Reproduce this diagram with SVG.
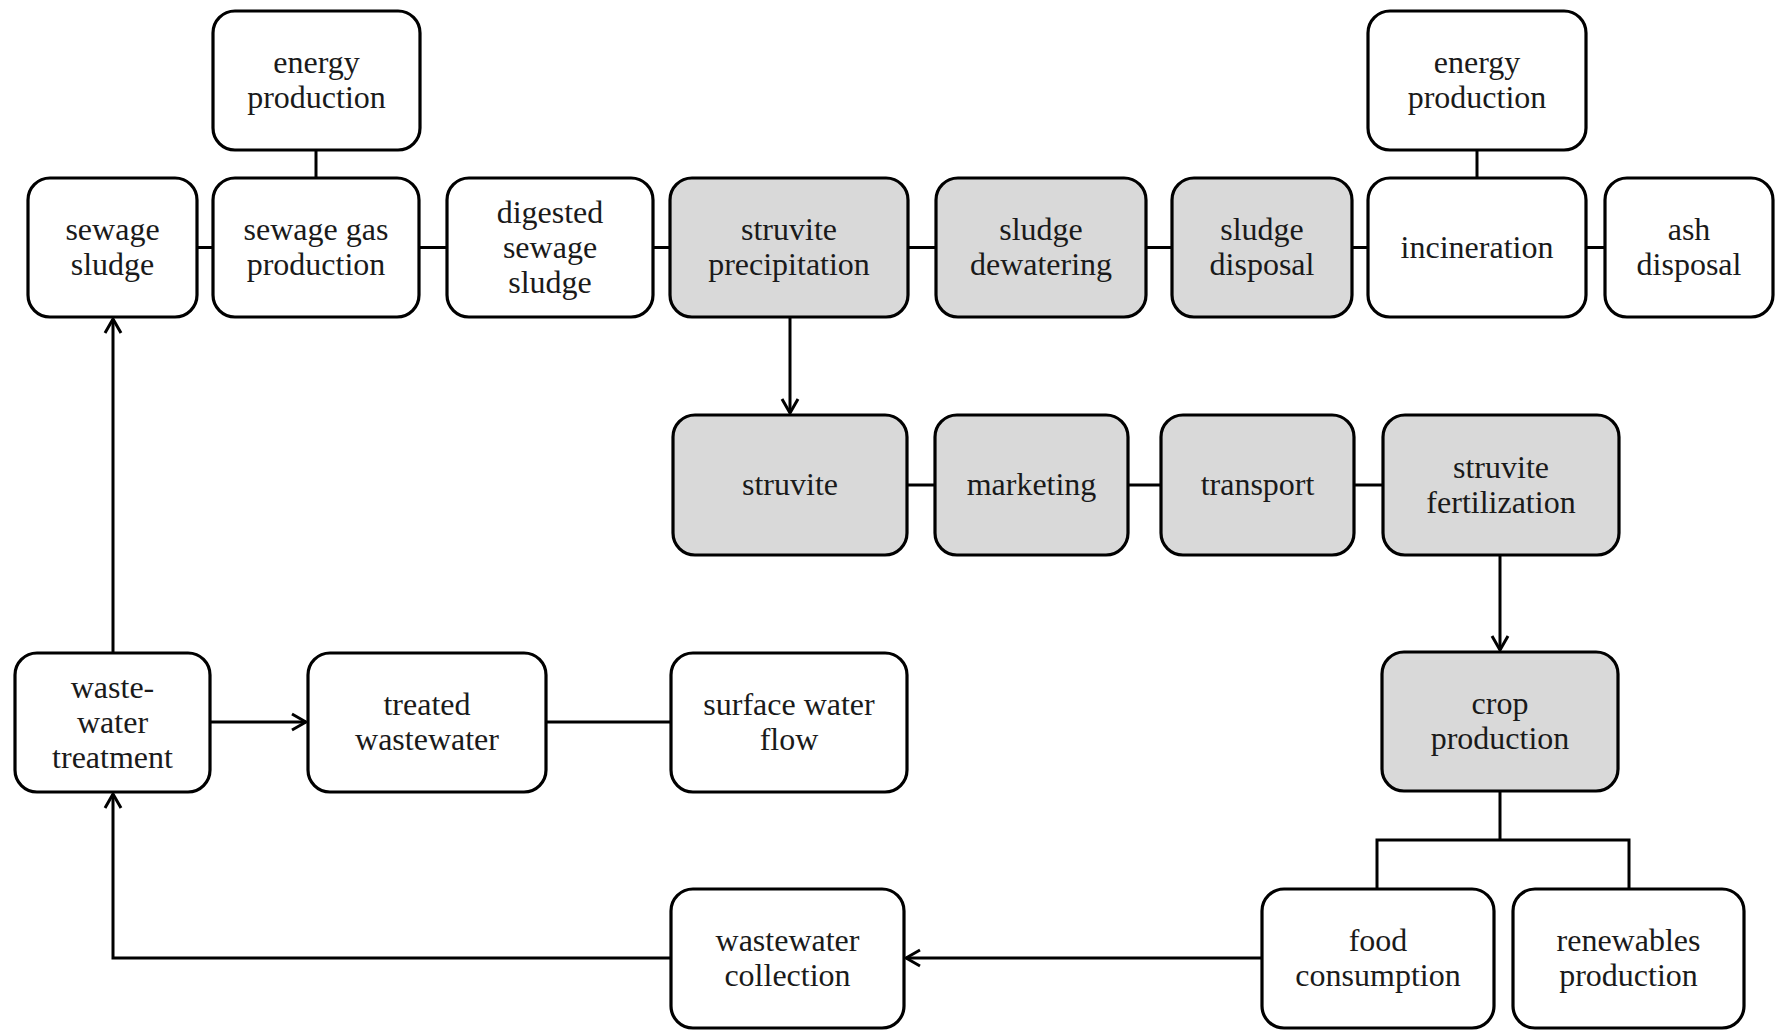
<svg xmlns="http://www.w3.org/2000/svg" width="1776" height="1030" viewBox="0 0 1776 1030">
  <style>
    .box { stroke: #000; stroke-width: 3.2; }
    .plain { fill: #fff; }
    .shaded { fill: #d9d9d9; }
    .lbl { font-family: "Liberation Serif", "DejaVu Serif", serif; font-size: 32px; fill: #1a1a1a; text-anchor: middle; }
    .wire { stroke: #000; stroke-width: 3; fill: none; }
  </style>
  <defs>
    <marker id="arrow" viewBox="-16 -10 18 20" refX="0" refY="0" markerWidth="18" markerHeight="20" markerUnits="userSpaceOnUse" orient="auto">
      <path d="M -14 -8 L 0 0 L -14 8" fill="none" stroke="#000" stroke-width="3"/>
    </marker>
  </defs>
  <rect width="1776" height="1030" fill="#fff"/>

  <!-- connectors -->
  <g id="connectors">
    <!-- top row chain -->
    <line class="wire" x1="197" y1="247.5" x2="213" y2="247.5"/>
    <line class="wire" x1="419" y1="247.5" x2="447" y2="247.5"/>
    <line class="wire" x1="653" y1="247.5" x2="670" y2="247.5"/>
    <line class="wire" x1="908" y1="247.5" x2="936" y2="247.5"/>
    <line class="wire" x1="1146" y1="247.5" x2="1172" y2="247.5"/>
    <line class="wire" x1="1352" y1="247.5" x2="1368" y2="247.5"/>
    <line class="wire" x1="1586" y1="247.5" x2="1605" y2="247.5"/>
    <!-- energy links -->
    <line class="wire" x1="316" y1="150" x2="316" y2="178"/>
    <line class="wire" x1="1477" y1="150" x2="1477" y2="178"/>
    <!-- precipitation to struvite -->
    <line class="wire" x1="790" y1="317" x2="790" y2="413" marker-end="url(#arrow)"/>
    <!-- second row chain -->
    <line class="wire" x1="907" y1="485" x2="935" y2="485"/>
    <line class="wire" x1="1128" y1="485" x2="1161" y2="485"/>
    <line class="wire" x1="1354" y1="485" x2="1383" y2="485"/>
    <!-- fertilization to crop production -->
    <line class="wire" x1="1500" y1="555" x2="1500" y2="650" marker-end="url(#arrow)"/>
    <!-- crop production branches -->
    <polyline class="wire" points="1500,791 1500,840"/>
    <polyline class="wire" points="1377,889 1377,840 1629,840 1629,889"/>
    <!-- food consumption to collection -->
    <line class="wire" x1="1262" y1="958" x2="906" y2="958" marker-end="url(#arrow)"/>
    <!-- collection back to treatment -->
    <polyline class="wire" points="671,958 113,958 113,794" marker-end="url(#arrow)"/>
    <!-- treatment to sewage sludge -->
    <line class="wire" x1="113" y1="653" x2="113" y2="319" marker-end="url(#arrow)"/>
    <!-- treatment to treated wastewater -->
    <line class="wire" x1="210" y1="722" x2="306" y2="722" marker-end="url(#arrow)"/>
    <line class="wire" x1="546" y1="722" x2="671" y2="722"/>
  </g>

  <!-- nodes -->
  <g id="energy-production-1">
    <rect class="box plain" x="213" y="11" width="207" height="139" rx="22"/>
    <text class="lbl" x="316.5" y="73">energy</text>
    <text class="lbl" x="316.5" y="108">production</text>
  </g>
  <g id="sewage-sludge">
    <rect class="box plain" x="28" y="178" width="169" height="139" rx="22"/>
    <text class="lbl" x="112.5" y="240">sewage</text>
    <text class="lbl" x="112.5" y="275">sludge</text>
  </g>
  <g id="sewage-gas-production">
    <rect class="box plain" x="213" y="178" width="206" height="139" rx="22"/>
    <text class="lbl" x="316" y="240">sewage gas</text>
    <text class="lbl" x="316" y="275">production</text>
  </g>
  <g id="digested-sewage-sludge">
    <rect class="box plain" x="447" y="178" width="206" height="139" rx="22"/>
    <text class="lbl" x="550" y="222.5">digested</text>
    <text class="lbl" x="550" y="257.5">sewage</text>
    <text class="lbl" x="550" y="292.5">sludge</text>
  </g>
  <g id="struvite-precipitation">
    <rect class="box shaded" x="670" y="178" width="238" height="139" rx="22"/>
    <text class="lbl" x="789" y="240">struvite</text>
    <text class="lbl" x="789" y="275">precipitation</text>
  </g>
  <g id="sludge-dewatering">
    <rect class="box shaded" x="936" y="178" width="210" height="139" rx="22"/>
    <text class="lbl" x="1041" y="240">sludge</text>
    <text class="lbl" x="1041" y="275">dewatering</text>
  </g>
  <g id="sludge-disposal">
    <rect class="box shaded" x="1172" y="178" width="180" height="139" rx="22"/>
    <text class="lbl" x="1262" y="240">sludge</text>
    <text class="lbl" x="1262" y="275">disposal</text>
  </g>
  <g id="incineration">
    <rect class="box plain" x="1368" y="178" width="218" height="139" rx="22"/>
    <text class="lbl" x="1477" y="257.5">incineration</text>
  </g>
  <g id="ash-disposal">
    <rect class="box plain" x="1605" y="178" width="168" height="139" rx="22"/>
    <text class="lbl" x="1689" y="240">ash</text>
    <text class="lbl" x="1689" y="275">disposal</text>
  </g>
  <g id="energy-production-2">
    <rect class="box plain" x="1368" y="11" width="218" height="139" rx="22"/>
    <text class="lbl" x="1477" y="73">energy</text>
    <text class="lbl" x="1477" y="108">production</text>
  </g>
  <g id="struvite">
    <rect class="box shaded" x="673" y="415" width="234" height="140" rx="22"/>
    <text class="lbl" x="790" y="495">struvite</text>
  </g>
  <g id="marketing">
    <rect class="box shaded" x="935" y="415" width="193" height="140" rx="22"/>
    <text class="lbl" x="1031.5" y="495">marketing</text>
  </g>
  <g id="transport">
    <rect class="box shaded" x="1161" y="415" width="193" height="140" rx="22"/>
    <text class="lbl" x="1257.5" y="495">transport</text>
  </g>
  <g id="struvite-fertilization">
    <rect class="box shaded" x="1383" y="415" width="236" height="140" rx="22"/>
    <text class="lbl" x="1501" y="477.5">struvite</text>
    <text class="lbl" x="1501" y="512.5">fertilization</text>
  </g>
  <g id="wastewater-treatment">
    <rect class="box plain" x="15" y="653" width="195" height="139" rx="22"/>
    <text class="lbl" x="112.5" y="697.5">waste-</text>
    <text class="lbl" x="112.5" y="732.5">water</text>
    <text class="lbl" x="112.5" y="767.5">treatment</text>
  </g>
  <g id="treated-wastewater">
    <rect class="box plain" x="308" y="653" width="238" height="139" rx="22"/>
    <text class="lbl" x="427" y="715">treated</text>
    <text class="lbl" x="427" y="750">wastewater</text>
  </g>
  <g id="surface-water-flow">
    <rect class="box plain" x="671" y="653" width="236" height="139" rx="22"/>
    <text class="lbl" x="789" y="715">surface water</text>
    <text class="lbl" x="789" y="750">flow</text>
  </g>
  <g id="crop-production">
    <rect class="box shaded" x="1382" y="652" width="236" height="139" rx="22"/>
    <text class="lbl" x="1500" y="714">crop</text>
    <text class="lbl" x="1500" y="749">production</text>
  </g>
  <g id="wastewater-collection">
    <rect class="box plain" x="671" y="889" width="233" height="139" rx="22"/>
    <text class="lbl" x="787.5" y="951">wastewater</text>
    <text class="lbl" x="787.5" y="986">collection</text>
  </g>
  <g id="food-consumption">
    <rect class="box plain" x="1262" y="889" width="232" height="139" rx="22"/>
    <text class="lbl" x="1378" y="951">food</text>
    <text class="lbl" x="1378" y="986">consumption</text>
  </g>
  <g id="renewables-production">
    <rect class="box plain" x="1513" y="889" width="231" height="139" rx="22"/>
    <text class="lbl" x="1628.5" y="951">renewables</text>
    <text class="lbl" x="1628.5" y="986">production</text>
  </g>
</svg>
